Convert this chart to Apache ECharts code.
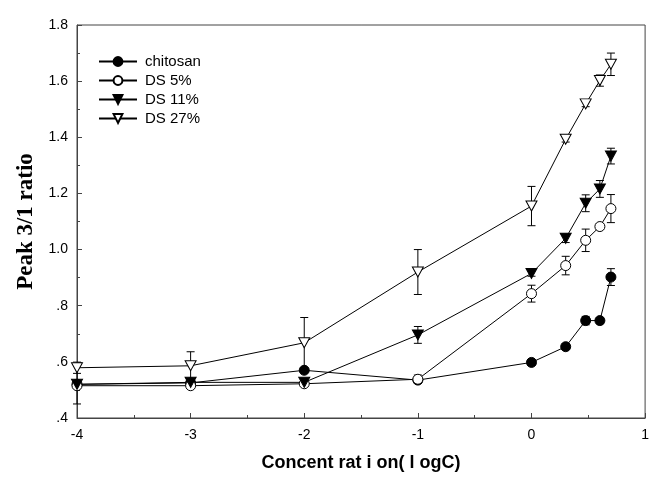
<!DOCTYPE html>
<html>
<head>
<meta charset="utf-8">
<script src="https://cdn.jsdelivr.net/npm/echarts@6/dist/echarts.min.js"></script>
<style>
  html, body { margin: 0; padding: 0; background: #fff; }
  #main { width: 652px; height: 483px; }
</style>
</head>
<body>
<div id="main"></div>
<script>
  // log concentration
  const logC = [-4, -3, -2, -1, 0, 0.301, 0.477, 0.602, 0.699];

  const chitosan    = [0.52, 0.525, 0.57, 0.535, 0.598, 0.654, 0.747, 0.747, 0.902];
  const chitosanErr = [0.07, 0, 0, 0, 0.01, 0.01, 0.015, 0.01, 0.03];
  const ds5         = [0.515, 0.515, 0.522, 0.538, 0.843, 0.943, 1.033, 1.082, 1.146];
  const ds5Err      = [0, 0.005, 0, 0.015, 0.03, 0.033, 0.04, 0.01, 0.05];
  const ds11        = [0.52, 0.527, 0.527, 0.696, 0.915, 1.04, 1.165, 1.216, 1.333];
  const ds11Err     = [0, 0.01, 0, 0.03, 0.01, 0.015, 0.03, 0.03, 0.028];
  const ds27        = [0.579, 0.586, 0.668, 0.92, 1.155, 1.393, 1.519, 1.602, 1.66];
  const ds27Err     = [0.02, 0.05, 0.09, 0.08, 0.07, 0.01, 0.01, 0.02, 0.04];

  const names = ['chitosan', 'DS 5%', 'DS 11%', 'DS 27%'];

  const chart = echarts.init(document.getElementById('main'));

  function pairs(ys) {
    return logC.map(function (x, i) { return [x, ys[i]]; });
  }

  function errData(ys, errs) {
    return logC.map(function (x, i) { return [x, ys[i], errs[i]]; });
  }

  // vertical error bar with caps
  function renderErr(params, api) {
    const x = api.value(0), y = api.value(1), e = api.value(2);
    if (!e) return null;
    const top = api.coord([x, y + e]);
    const bot = api.coord([x, y - e]);
    const w = 4;
    const st = { stroke: '#000', lineWidth: 1 };
    return {
      type: 'group',
      children: [
        { type: 'line', shape: { x1: top[0], y1: top[1], x2: bot[0], y2: bot[1] }, style: st },
        { type: 'line', shape: { x1: top[0] - w, y1: top[1], x2: top[0] + w, y2: top[1] }, style: st },
        { type: 'line', shape: { x1: bot[0] - w, y1: bot[1], x2: bot[0] + w, y2: bot[1] }, style: st }
      ]
    };
  }

  function lineSeries(name, ys, symbol, fill, size, rotate) {
    return {
      name: name,
      type: 'line',
      data: pairs(ys),
      symbol: symbol,
      symbolSize: size,
      symbolRotate: rotate || 0,
      showAllSymbol: true,
      lineStyle: { color: '#000', width: 1 },
      itemStyle: { color: fill, borderColor: '#000', borderWidth: 1 },
      z: 3
    };
  }

  function errSeries(ys, errs) {
    return {
      type: 'custom',
      renderItem: renderErr,
      data: errData(ys, errs),
      z: 2,
      silent: true
    };
  }

  const sans = 'Liberation Sans, Arial, sans-serif';
  const labelFont = { color: '#000', fontSize: 14, fontFamily: sans };

  chart.setOption({
    animation: false,
    backgroundColor: '#fff',
    grid: {
      left: 77, right: 2, top: 25, bottom: 65,
      show: true, borderColor: '#444', borderWidth: 1
    },
    legend: {
      data: names,
      orient: 'vertical',
      left: 93,
      top: 49,
      itemWidth: 38,
      itemHeight: 11,
      itemGap: 4,
      textStyle: { color: '#000', fontSize: 15, fontFamily: sans, padding: [0, 0, 0, 3] }
    },
    xAxis: {
      type: 'value',
      min: -4,
      max: 1,
      interval: 1,
      name: 'Concent rat i on( l ogC)',
      nameLocation: 'middle',
      nameGap: 36,
      nameTextStyle: { color: '#000', fontSize: 18, fontWeight: 'bold', fontFamily: sans },
      axisLine: { onZero: false, lineStyle: { color: '#444' } },
      axisTick: { inside: true, length: 5, lineStyle: { color: '#444' } },
      minorTick: { show: true, splitNumber: 2, length: 3, lineStyle: { color: '#444' } },
      axisLabel: Object.assign({ margin: 10 }, labelFont),
      splitLine: { show: false }
    },
    yAxis: {
      type: 'value',
      min: 0.4,
      max: 1.8,
      interval: 0.2,
      name: 'Peak 3/1 ratio',
      nameLocation: 'middle',
      nameGap: 38,
      nameRotate: 90,
      nameTextStyle: { color: '#000', fontSize: 23, fontWeight: 'bold', fontFamily: 'Liberation Serif, Times New Roman, serif' },
      axisLine: { onZero: false, lineStyle: { color: '#444' } },
      axisTick: { inside: true, length: 5, lineStyle: { color: '#444' } },
      minorTick: { show: true, splitNumber: 2, length: 3, lineStyle: { color: '#444' } },
      axisLabel: Object.assign({
        margin: 9,
        padding: [0, 0, 8, 0],
        formatter: function (v) { return v.toFixed(1).replace(/^0/, ''); }
      }, labelFont),
      splitLine: { show: false }
    },
    series: [
      errSeries(chitosan, chitosanErr),
      errSeries(ds5, ds5Err),
      errSeries(ds11, ds11Err),
      errSeries(ds27, ds27Err),
      lineSeries(names[0], chitosan, 'circle', '#000', 10),
      lineSeries(names[1], ds5, 'circle', '#fff', 10),
      lineSeries(names[2], ds11, 'triangle', '#000', [11, 10], 180),
      lineSeries(names[3], ds27, 'triangle', '#fff', [11, 10], 180)
    ]
  });
</script>
</body>
</html>
